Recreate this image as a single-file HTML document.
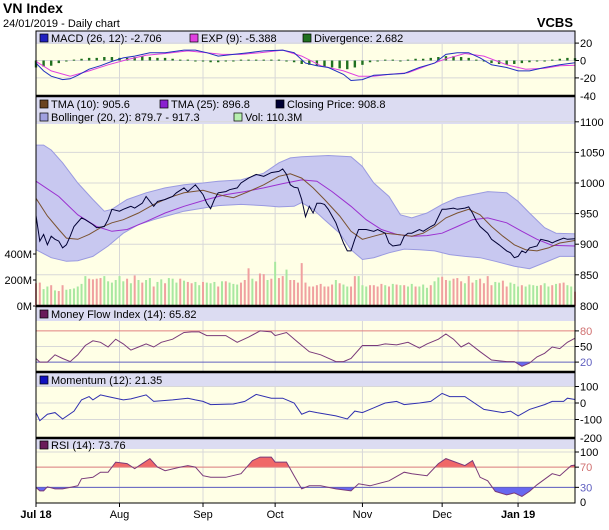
<!DOCTYPE html>
<html><head><meta charset="utf-8"><style>
body{margin:0;background:#fff;font-family:"Liberation Sans",sans-serif}
svg{display:block}
text{font-family:"Liberation Sans",sans-serif}
</style></head><body>
<svg id="c" width="609" height="530" viewBox="0 0 609 530"></svg>
<script>
const closeData=[[0,947],[1,905],[2,916],[3,899],[4,913],[5,908],[6,905],[7,894],[8,899],[9,913],[10,929],[12,943],[13,940],[15,932],[16,927],[18,929],[19,940],[20,957],[22,954],[23,957],[25,962],[26,959],[28,967],[29,978],[31,962],[32,970],[34,973],[36,978],[37,984],[39,992],[40,986],[42,997],[43,989],[44,981],[45,967],[46,958],[47,973],[48,984],[50,986],[51,989],[53,992],[54,1000],[56,1008],[58,1014],[60,1011],[62,1017],[64,1019],[65,1023],[66,1014],[67,997],[68,993],[69,992],[70,973],[71,945],[72,962],[73,951],[74,967],[75,967],[76,965],[77,957],[78,946],[79,935],[80,918],[81,902],[82,889],[83,889],[84,908],[85,924],[86,924],[87,924],[89,921],[90,924],[92,918],[93,902],[94,897],[96,899],[97,913],[98,918],[99,918],[101,924],[102,921],[104,929],[105,932],[107,957],[108,957],[110,959],[111,957],[113,959],[114,961],[115,951],[116,938],[117,929],[119,918],[120,908],[122,899],[123,894],[124,889],[125,886],[126,878],[127,880],[128,889],[129,886],[130,894],[132,897],[133,908],[135,905],[136,902],[137,905],[139,910],[140,908],[142,909]];
const tma10Data=[[0,975],[3,946],[6,924],[8,910],[11,908],[14,916],[17,927],[20,935],[23,940],[27,951],[31,965],[35,976],[39,984],[44,988],[48,981],[52,976],[56,986],[60,997],[64,1011],[67,1015],[70,1008],[73,992],[76,973],[80,946],[83,921],[86,908],[89,913],[92,918],[95,916],[99,913],[102,918],[105,929],[108,943],[111,951],[114,957],[117,948],[120,929],[123,913],[126,899],[129,891],[132,889],[135,894],[138,902],[142,906]];
const tma25Data=[[0,1003],[6,978],[11,948],[16,929],[20,921],[24,924],[29,937],[34,951],[39,962],[45,973],[50,981],[55,986],[60,992],[65,999],[70,1005],[74,1003],[78,986],[83,962],[87,940],[91,924],[95,916],[99,913],[103,914],[107,918],[111,929],[115,940],[119,943],[124,935],[128,921],[132,908],[136,898],[142,897]];
const bollUpper=[[0,1062],[2,1062],[4,1054],[7,1033],[11,1000],[15,973],[18,954],[20,957],[24,973],[29,984],[34,992],[39,997],[44,1000],[48,1003],[54,1005],[60,1016],[64,1033],[67,1041],[70,1043],[77,1045],[83,1043],[86,1027],[89,1000],[93,978],[96,948],[99,943],[103,951],[107,965],[111,976],[115,981],[119,986],[124,984],[127,970],[130,951],[134,927],[137,918],[142,917]];
const bollLower=[[0,891],[4,878],[8,872],[11,873],[15,880],[19,897],[23,918],[27,932],[31,940],[35,947],[39,954],[44,959],[48,963],[54,965],[60,963],[64,961],[68,962],[70,968],[73,957],[76,940],[80,918],[83,891],[86,875],[89,878],[93,886],[97,892],[101,891],[105,889],[109,883],[113,880],[117,878],[121,872],[126,864],[130,860],[134,870],[138,880],[142,880]];
const volume=[175,180,130,150,160,120,115,160,125,130,135,150,170,230,210,205,210,215,230,190,180,200,230,190,210,175,235,200,180,200,215,150,185,205,175,215,210,180,210,195,185,175,185,160,185,180,175,185,150,190,190,180,170,165,180,200,290,210,190,250,245,200,210,340,215,230,280,200,200,180,330,180,150,150,160,170,150,150,165,200,175,165,150,150,230,230,160,150,160,160,150,170,160,150,170,165,160,160,150,170,150,150,165,140,160,190,220,225,200,195,210,215,190,175,230,180,200,210,175,230,160,185,180,195,150,180,170,150,160,150,165,160,155,160,175,150,160,170,175,180,160,150,110];
const volDir="rrggrgrrggggggrrrrggggggrgrgrggrggrgggrgrrggrgggrgrgggrrrgrrrgrgrrgrrrrrrrrrrrrgrggrrgggrrrrgrgrgrggrgggrggrrgrrrgrrgrrrrggrrgggrggggrggrgrrgg";
const macdData=[[0,-3],[2,-12],[4,-18],[7,-22],[9,-21],[11,-17],[14,-10],[17,-6],[20,-1],[23,3],[26,5],[30,9],[34,9],[39,12],[42,12],[45,9],[48,5],[52,7],[56,9],[60,11],[65,12],[68,9],[71,-3],[74,-6],[77,-8],[81,-16],[83,-23],[86,-22],[89,-17],[93,-16],[97,-15],[101,-8],[105,-3],[108,7],[111,9],[114,9],[117,3],[120,-5],[124,-8],[127,-12],[130,-12],[134,-8],[138,-5],[142,-2.7]];
const expData=[[0,-1],[4,-12],[9,-18],[14,-12],[19,-5],[24,1],[29,6],[34,8],[40,11],[45,9],[49,7],[54,7],[59,9],[65,12],[70,5],[75,-6],[81,-12],[85,-18],[89,-18],[93,-16],[98,-14],[103,-6],[108,2],[113,8],[118,5],[124,-5],[129,-10],[134,-9],[138,-6],[142,-5.4]];
const divergence=[-8,-7,-6,-3,-1,1,2,3,3,4,4,3,3,4,5,4,3,3,2,1,1,0,-1,-2,-2,-1,0,1,1,1,1,1,1,0,-2,-4,-5,-6,-7,-8,-9,-10,-8,-5,-2,0,1,1,0,1,2,2,3,4,5,5,4,3,1,-1,-3,-4,-5,-4,-3,-2,-1,0,1,2,3,2.7];
const mfiData=[[0,27],[1,20],[3,20],[5,34],[7,27],[9,21],[11,34],[13,52],[15,61],[17,58],[19,49],[21,64],[23,55],[25,43],[27,49],[29,55],[31,49],[33,58],[36,64],[39,77],[41,78],[43,78],[45,71],[50,71],[53,58],[56,68],[59,80],[62,78],[63,71],[66,77],[69,58],[72,40],[75,34],[79,21],[81,21],[83,27],[86,52],[90,52],[92,55],[95,53],[98,58],[101,47],[103,55],[106,64],[108,74],[110,64],[112,49],[114,57],[117,40],[120,24],[124,21],[126,21],[128,12],[130,18],[132,30],[134,37],[136,49],[138,46],[140,58],[142,66]];
const momData=[[0,-58],[1,-107],[3,-68],[5,-58],[7,-97],[10,-49],[12,19],[14,39],[15,19],[17,49],[19,39],[21,29],[23,19],[25,25],[29,49],[31,10],[36,19],[40,29],[42,19],[44,10],[46,-10],[52,-6],[55,10],[58,52],[62,29],[65,29],[68,0],[70,-68],[72,-49],[74,-58],[79,-78],[82,-97],[84,-49],[86,-58],[89,-29],[92,0],[95,10],[97,-10],[101,0],[104,10],[107,58],[109,39],[113,39],[118,-39],[123,-58],[125,-49],[127,-78],[130,-39],[134,-10],[136,10],[139,10],[140,29],[142,21]];
const rsiData=[[0,30],[1,23],[2,23],[3,31],[5,27],[7,27],[9,30],[11,33],[12,47],[15,50],[17,60],[19,60],[21,80],[24,77],[26,67],[28,77],[30,87],[32,70],[34,63],[38,70],[40,73],[42,70],[44,53],[46,50],[50,50],[54,57],[57,83],[59,90],[62,90],[63,80],[66,80],[68,53],[70,27],[72,33],[75,33],[79,27],[83,23],[85,37],[88,33],[93,43],[97,60],[99,57],[103,53],[106,77],[108,87],[113,73],[115,83],[117,50],[119,43],[121,22],[124,15],[126,19],[128,12],[130,22],[132,35],[136,57],[138,53],[141,73],[142,74]];
const monthLabels=["Jul 18","Aug","Sep","Oct","Nov","Dec","Jan 19"];
const monthDays=[0,22,44,63,86,107,127];
const monthBold=[1,0,0,0,0,0,1];

const NS="http://www.w3.org/2000/svg";
const svg=document.getElementById('c');
const L=36,R=575,NDAYS=142;
function X(d){return L+d*(R-L)/NDAYS;}
const yP=p=>183-(p-1000)*0.612;
const yV=v=>306-v*0.13;
const yM=v=>60.5-v*0.87;
const yF=v=>372.5-v*0.52;
const yMo=v=>403-v*0.165;
const yR=v=>502.5-v*0.505;
function el(tag,attrs,parent){const e=document.createElementNS(NS,tag);for(const k in attrs)e.setAttribute(k,attrs[k]);(parent||svg).appendChild(e);return e;}
function txt(s,x,y,attrs){const t=el('text',Object.assign({x:x,y:y,'font-size':11,fill:'#000'},attrs||{}));t.textContent=s;return t;}
function pts(data,fy){return data.map(d=>X(d[0]).toFixed(1)+','+fy(d[1]).toFixed(1)).join(' ');}

// titles
let t=txt('VN Index',3,13,{'font-size':14,'font-weight':'bold'});
t=txt('24/01/2019 - Daily chart',3,27,{'font-size':11});
t=txt('VCBS',573,27,{'font-size':13,'font-weight':'bold','text-anchor':'end'});

// panels
const panels=[{top:31,bot:96,head:13,name:'macd-panel'},{top:96,bot:306,head:28,name:'price-panel'},{top:306,bot:372,head:15,name:'mfi-panel'},{top:372,bot:438,head:14,name:'momentum-panel'},{top:438,bot:503,head:11,name:'rsi-panel'}];
panels.forEach(p=>{
  const r=el('rect',{x:L,y:p.top,width:R-L,height:p.bot-p.top,fill:'#ffffe6'});
  
  const h=el('rect',{x:L,y:p.top,width:R-L,height:p.head,fill:'#dcdcf2'});
  
  monthDays.forEach(d=>{const g=el('line',{x1:X(d),x2:X(d),y1:p.top+p.head,y2:p.bot,stroke:'#d8d8d8','stroke-width':1});});
});
function hgrid(ys,labels,colors,x0){
  ys.forEach((y,i)=>{
    const g=el('line',{x1:L,x2:R,y1:y,y2:y,stroke:'#d8d8d8'});
    const tk=el('line',{x1:R,x2:R+4,y1:y,y2:y,stroke:'#000'});
    const tl=txt(labels[i],R+5,y+4,{fill:colors?colors[i]:'#000'});
  });
}
hgrid([20,0,-20].map(yM),['20','0','-20']);
txt('-40',R+5,100);
hgrid([1100,1050,1000,950,900,850].map(yP),['1100','1050','1000','950','900','850']);
txt('800',R+5,310);
hgrid([50].map(yF),['50']);
hgrid([100,0,-100].map(yMo),['100','0','-100']);
txt('-200',R+5,442);
hgrid([100,70,30].map(yR),['100','70','30'],['#000','#d07070','#6060c0']);
txt('0',R+5,506);
// left volume axis
[400,200,0].forEach(v=>{const y=yV(v);el('line',{x1:L-3,x2:L,y1:y,y2:y,stroke:'#000'});const a=txt(v+'M',L-4,y+4,{'text-anchor':'end'});});

// bollinger band
const band=el('polygon',{points:pts(bollUpper,yP)+' '+pts(bollLower.slice().reverse(),yP),fill:'#c8c8f0',stroke:'#9a9ae0','stroke-width':1});

// volume
volume.forEach((v,i)=>{const b=el('rect',{x:X(i)-1,y:yV(v),width:2,height:306-yV(v),fill:volDir[i]==='g'?'#a8e8a0':'#f0a0a0'});
  });
function line(data,fy,color,name,w){const l=el('polyline',{points:pts(data,fy),fill:'none',stroke:color,'stroke-width':w||1});return l;}
line(tma25Data,yP,'#9b30d0','tma25-line');
line(tma10Data,yP,'#7a5230','tma10-line');
line(closeData,yP,'#000033','closing-price-line');

// MACD
divergence.forEach((v,i)=>{const d=i*2;const y0=yM(0),y1=yM(v);const b=el('rect',{x:X(d)-1.2,y:Math.min(y0,y1),width:2.4,height:Math.max(1,Math.abs(y1-y0)),fill:'#207020'});
  });
line(expData,yM,'#e040e0','exp-line');
line(macdData,yM,'#2030c0','macd-line');

// threshold fills
let clipId=0;
function thresholdFill(data,fy,th,above,color,name){
  const yT=fy(th);const id='cl'+(clipId++);
  const cp=el('clipPath',{id:id});
  if(above)el('rect',{x:L,y:0,width:R-L,height:yT},cp);else el('rect',{x:L,y:yT,width:R-L,height:600},cp);
  const poly=el('polygon',{points:X(data[0][0])+','+yT+' '+pts(data,fy)+' '+X(data[data.length-1][0])+','+yT,fill:color,'clip-path':'url(#'+id+')'});
  
}
function thLine(y,color,name){const l=el('line',{x1:L,x2:R,y1:y,y2:y,stroke:color});}
thresholdFill(mfiData,yF,80,true,'#f06868','mfi-overbought-fill');
thresholdFill(mfiData,yF,20,false,'#6868f0','mfi-oversold-fill');
thLine(yF(80),'#e08080','mfi-80-line');thLine(yF(20),'#6060c0','mfi-20-line');
[[80,'#d07070'],[20,'#6060c0']].forEach(a=>{const y=yF(a[0]);el('line',{x1:R,x2:R+4,y1:y,y2:y,stroke:'#000'});txt(String(a[0]),R+5,y+4,{fill:a[1]});});
line(mfiData,yF,'#7a3a7a','mfi-line');
line(momData,yMo,'#3030b0','momentum-line');
thresholdFill(rsiData,yR,70,true,'#f06868','rsi-overbought-fill');
thresholdFill(rsiData,yR,30,false,'#6868f0','rsi-oversold-fill');
thLine(yR(70),'#e08080','rsi-70-line');thLine(yR(30),'#6060c0','rsi-30-line');
line(rsiData,yR,'#7a3a7a','rsi-line');

// frames
panels.forEach(p=>{el('rect',{x:L,y:p.top,width:R-L,height:p.bot-p.top,fill:'none',stroke:'#000','stroke-width':1});});
[96,306,372,438].forEach(y=>el('line',{x1:L,x2:R,y1:y,y2:y,stroke:'#000','stroke-width':2.5}));

// legends
function legend(x,y,color,label,name){const s=el('rect',{x:x,y:y-8,width:8,height:8,fill:color,stroke:'#000','stroke-width':0.7});
  const tt=txt(label,x+11,y,{'font-size':11});}
legend(40,42,'#2020c0','MACD (26, 12): -2.706','legend-macd');
legend(190,42,'#e040e0','EXP (9): -5.388','legend-exp');
legend(303,42,'#207020','Divergence: 2.682','legend-divergence');
legend(40,108,'#6b4420','TMA (10): 905.6','legend-tma10');
legend(160,108,'#8a20d0','TMA (25): 896.8','legend-tma25');
legend(276,108,'#000033','Closing Price: 908.8','legend-close');
legend(40,121,'#a0a0e0','Bollinger (20, 2): 879.7 - 917.3','legend-bollinger');
legend(234,121,'#b8f0b0','Vol: 110.3M','legend-volume');
legend(40,318,'#6a1a5a','Money Flow Index (14): 65.82','legend-mfi');
legend(40,384,'#1010c0','Momentum (12): 21.35','legend-momentum');
legend(40,449,'#6a1a5a','RSI (14): 73.76','legend-rsi');

// x axis
monthLabels.forEach((m,i)=>{const x=X(monthDays[i]);el('line',{x1:x,x2:x,y1:503,y2:507,stroke:'#000'});
  const a=txt(m,x,518,{'text-anchor':'middle','font-weight':monthBold[i]?'bold':'normal'});});
</script>
</body></html>
